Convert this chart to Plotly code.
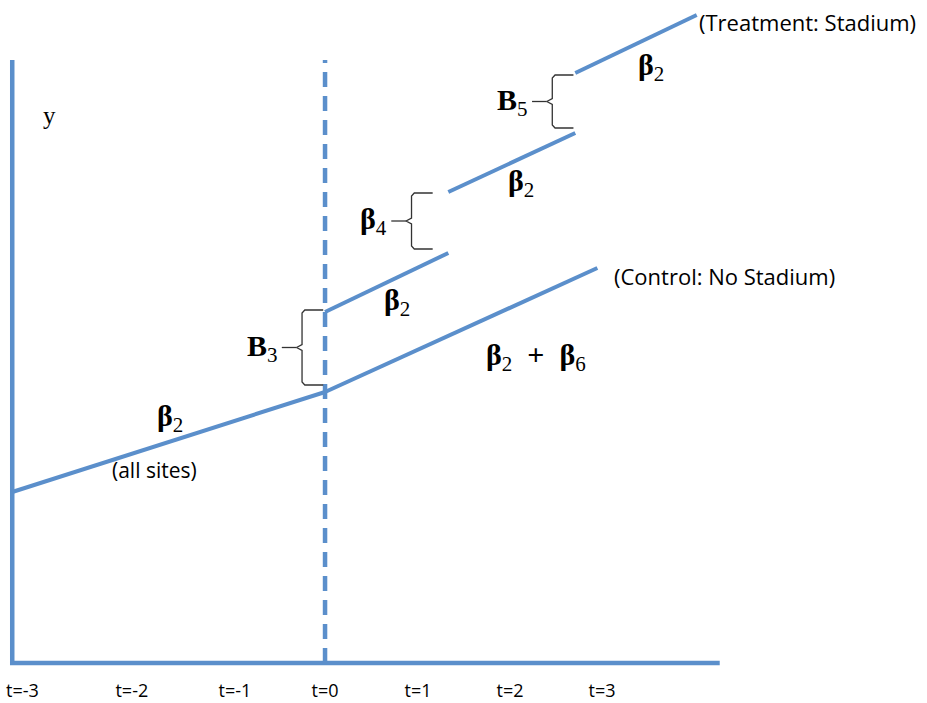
import plotly.graph_objects as go

# ---- data (t units on x, arbitrary outcome units on y) ----
tick_labels = ["t=-3", "t=-2", "t=-1", "t=0", "t=1", "t=2", "t=3"]
tick_positions = [-3.29, -2.10, -0.98, 0.0, 1.01, 2.01, 3.01]

axis_x = [-3.40, -3.40, 4.29]
axis_y = [6.03, 0.0, 0.0]

all_sites_x = [-3.40, 0.0]
all_sites_y = [1.71, 2.71]

control_x = [0.0, 2.96]
control_y = [2.71, 3.95]

treat1_x = [0.0, 1.34]
treat1_y = [3.51, 4.10]
treat2_x = [1.34, 2.72]
treat2_y = [4.71, 5.30]
treat3_x = [2.72, 4.04]
treat3_y = [5.90, 6.48]

treat_event_x = [0.0, 0.0]
treat_event_y = [0.0, 6.03]

BLUE = "#5B8FCB"
fig = go.Figure()

def add_line(x, y, dash="solid", width=4):
    fig.add_trace(go.Scatter(x=x, y=y, mode="lines",
                             line=dict(color=BLUE, width=width, dash=dash),
                             hoverinfo="skip", showlegend=False))

add_line(axis_x, axis_y, width=4.5)
add_line(treat_event_x, treat_event_y, dash="15px,9px", width=4.5)
add_line(all_sites_x, all_sites_y)
add_line(control_x, control_y)
add_line(treat1_x, treat1_y)
add_line(treat2_x, treat2_y)
add_line(treat3_x, treat3_y)

# curly braces spanning each jump
def add_brace(x_edge, y_lo, y_hi):
    xr = x_edge - 0.02
    xb = xr - 0.23
    ym = (y_lo + y_hi) / 2
    c = 0.06   # cusp offset in x
    k = 0.03   # small vertical offset
    xs = [xr, xb + 0.03, xb, xb, xb - c, xb, xb, xb + 0.03, xr, None, xb - c, xb - c - 0.16]
    ys = [y_hi, y_hi, y_hi - k, ym + k, ym, ym - k, y_lo + k, y_lo, y_lo, None, ym, ym]
    fig.add_trace(go.Scatter(x=xs, y=ys, mode="lines",
                             line=dict(color="#333333", width=1.3),
                             hoverinfo="skip", showlegend=False))
    return xb - c - 0.16, ym

b3x, b3y = add_brace(treat1_x[0], control_y[0] + 0.07, treat1_y[0] + 0.02)
b4x, b4y = add_brace(treat2_x[0] - 0.15, treat1_y[1] + 0.04, treat2_y[0] - 0.01)
b5x, b5y = add_brace(treat3_x[0], treat2_y[1] + 0.05, treat3_y[0] - 0.02)

SERIF = "Liberation Serif"
SANS = "Open Sans"

def ann(x, y, text, font, size, xanchor="center"):
    fig.add_annotation(x=x, y=y, text=text, showarrow=False, xanchor=xanchor,
                       yanchor="middle", font=dict(family=font, size=size, color="black"))

beta2 = "<b>β</b><sub>2</sub>"
BS = 30
ann(-1.68, 2.45, beta2, SERIF, BS)
ann(-1.85, 1.93, "(all sites)", SANS, 21)
ann(b3x - 0.02, b3y, "<b>B</b><sub>3</sub>", SERIF, BS, "right")
ann(0.78, 3.61, beta2, SERIF, BS)
ann(2.29, 3.06, "<b>β</b><sub>2</sub><b>  +  </b><b>β</b><sub>6</sub>", SERIF, BS)
ann(3.12, 3.87, "(Control: No Stadium)", SANS, 22, "left")
ann(b4x - 0.02, b4y, "<b>β</b><sub>4</sub>", SERIF, BS, "right")
ann(2.13, 4.80, beta2, SERIF, BS)
ann(b5x - 0.02, b5y, "<b>B</b><sub>5</sub>", SERIF, BS, "right")
ann(3.54, 5.96, beta2, SERIF, BS)
ann(4.04, 6.41, "(Treatment: Stadium)", SANS, 22, "left")
ann(-3.0, 5.48, "y", SERIF, 25)

fig.update_layout(
    width=927, height=703,
    margin=dict(l=0, r=0, t=0, b=25),
    paper_bgcolor="white", plot_bgcolor="white",
    xaxis=dict(range=[-3.533, 6.543], showgrid=False, zeroline=False, showline=False,
               tickmode="array", tickvals=tick_positions, ticktext=tick_labels,
               ticks="", tickfont=dict(family=SANS, size=18, color="black")),
    yaxis=dict(range=[-0.15, 6.63], visible=False),
)

fig.write_html("out.html", config={"displayModeBar": False},
               post_script="document.body.style.margin='0';document.body.style.overflow='hidden';")
